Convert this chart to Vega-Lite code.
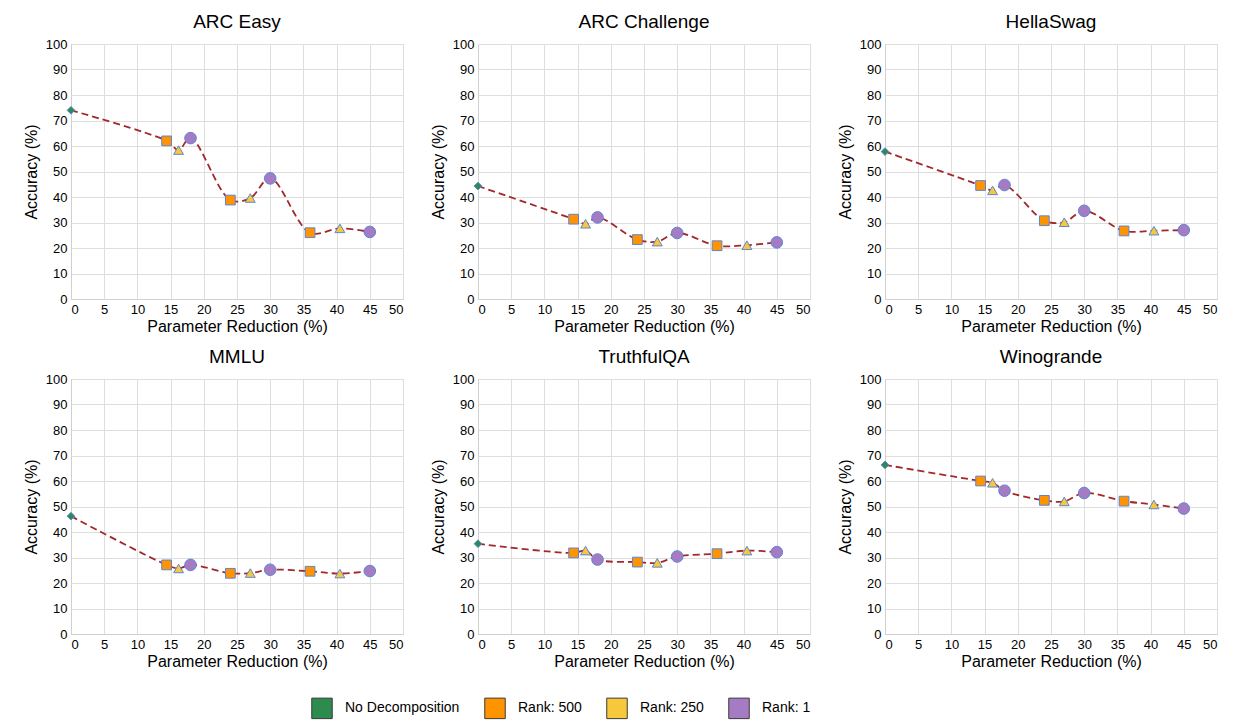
{
  "$schema": "https://vega.github.io/schema/vega-lite/v6.json",
  "background": "white",
  "padding": {"left": 22, "top": 12, "right": 5, "bottom": 5},
  "data": {"values": [
    {"bench":"ARC Easy","x":0,"acc":74.0,"series":"No Decomposition"},
    {"bench":"ARC Easy","x":14.4,"acc":62.0,"series":"Rank: 500"},
    {"bench":"ARC Easy","x":16.2,"acc":58.4,"series":"Rank: 250"},
    {"bench":"ARC Easy","x":18,"acc":63.1,"series":"Rank: 1"},
    {"bench":"ARC Easy","x":24,"acc":38.8,"series":"Rank: 500"},
    {"bench":"ARC Easy","x":27,"acc":39.6,"series":"Rank: 250"},
    {"bench":"ARC Easy","x":30,"acc":47.3,"series":"Rank: 1"},
    {"bench":"ARC Easy","x":36,"acc":26.0,"series":"Rank: 500"},
    {"bench":"ARC Easy","x":40.5,"acc":27.7,"series":"Rank: 250"},
    {"bench":"ARC Easy","x":45,"acc":26.3,"series":"Rank: 1"},
    {"bench":"ARC Challenge","x":0,"acc":44.3,"series":"No Decomposition"},
    {"bench":"ARC Challenge","x":14.4,"acc":31.3,"series":"Rank: 500"},
    {"bench":"ARC Challenge","x":16.2,"acc":29.5,"series":"Rank: 250"},
    {"bench":"ARC Challenge","x":18,"acc":32.0,"series":"Rank: 1"},
    {"bench":"ARC Challenge","x":24,"acc":23.3,"series":"Rank: 500"},
    {"bench":"ARC Challenge","x":27,"acc":22.5,"series":"Rank: 250"},
    {"bench":"ARC Challenge","x":30,"acc":25.9,"series":"Rank: 1"},
    {"bench":"ARC Challenge","x":36,"acc":20.9,"series":"Rank: 500"},
    {"bench":"ARC Challenge","x":40.5,"acc":21.1,"series":"Rank: 250"},
    {"bench":"ARC Challenge","x":45,"acc":22.2,"series":"Rank: 1"},
    {"bench":"HellaSwag","x":0,"acc":57.8,"series":"No Decomposition"},
    {"bench":"HellaSwag","x":14.4,"acc":44.5,"series":"Rank: 500"},
    {"bench":"HellaSwag","x":16.2,"acc":42.6,"series":"Rank: 250"},
    {"bench":"HellaSwag","x":18,"acc":44.7,"series":"Rank: 1"},
    {"bench":"HellaSwag","x":24,"acc":30.7,"series":"Rank: 500"},
    {"bench":"HellaSwag","x":27,"acc":30.1,"series":"Rank: 250"},
    {"bench":"HellaSwag","x":30,"acc":34.6,"series":"Rank: 1"},
    {"bench":"HellaSwag","x":36,"acc":26.7,"series":"Rank: 500"},
    {"bench":"HellaSwag","x":40.5,"acc":26.8,"series":"Rank: 250"},
    {"bench":"HellaSwag","x":45,"acc":27.0,"series":"Rank: 1"},
    {"bench":"MMLU","x":0,"acc":46.2,"series":"No Decomposition"},
    {"bench":"MMLU","x":14.4,"acc":27.1,"series":"Rank: 500"},
    {"bench":"MMLU","x":16.2,"acc":25.7,"series":"Rank: 250"},
    {"bench":"MMLU","x":18,"acc":27.1,"series":"Rank: 1"},
    {"bench":"MMLU","x":24,"acc":23.8,"series":"Rank: 500"},
    {"bench":"MMLU","x":27,"acc":23.9,"series":"Rank: 250"},
    {"bench":"MMLU","x":30,"acc":25.2,"series":"Rank: 1"},
    {"bench":"MMLU","x":36,"acc":24.6,"series":"Rank: 500"},
    {"bench":"MMLU","x":40.5,"acc":23.7,"series":"Rank: 250"},
    {"bench":"MMLU","x":45,"acc":24.7,"series":"Rank: 1"},
    {"bench":"TruthfulQA","x":0,"acc":35.4,"series":"No Decomposition"},
    {"bench":"TruthfulQA","x":14.4,"acc":31.8,"series":"Rank: 500"},
    {"bench":"TruthfulQA","x":16.2,"acc":32.7,"series":"Rank: 250"},
    {"bench":"TruthfulQA","x":18,"acc":29.2,"series":"Rank: 1"},
    {"bench":"TruthfulQA","x":24,"acc":28.2,"series":"Rank: 500"},
    {"bench":"TruthfulQA","x":27,"acc":27.9,"series":"Rank: 250"},
    {"bench":"TruthfulQA","x":30,"acc":30.4,"series":"Rank: 1"},
    {"bench":"TruthfulQA","x":36,"acc":31.5,"series":"Rank: 500"},
    {"bench":"TruthfulQA","x":40.5,"acc":32.7,"series":"Rank: 250"},
    {"bench":"TruthfulQA","x":45,"acc":32.1,"series":"Rank: 1"},
    {"bench":"Winogrande","x":0,"acc":66.3,"series":"No Decomposition"},
    {"bench":"Winogrande","x":14.4,"acc":60.0,"series":"Rank: 500"},
    {"bench":"Winogrande","x":16.2,"acc":59.3,"series":"Rank: 250"},
    {"bench":"Winogrande","x":18,"acc":56.2,"series":"Rank: 1"},
    {"bench":"Winogrande","x":24,"acc":52.4,"series":"Rank: 500"},
    {"bench":"Winogrande","x":27,"acc":52.0,"series":"Rank: 250"},
    {"bench":"Winogrande","x":30,"acc":55.3,"series":"Rank: 1"},
    {"bench":"Winogrande","x":36,"acc":52.1,"series":"Rank: 500"},
    {"bench":"Winogrande","x":40.5,"acc":50.8,"series":"Rank: 250"},
    {"bench":"Winogrande","x":45,"acc":49.2,"series":"Rank: 1"}
  ]},
  "facet": {
    "field": "bench", "type": "nominal",
    "sort": ["ARC Easy","ARC Challenge","HellaSwag","MMLU","TruthfulQA","Winogrande"],
    "title": null,
    "header": {"labelFontSize": 19, "labelFont": "Liberation Sans", "labelColor": "black", "labelPadding": 6}
  },
  "columns": 3,
  "spacing": {"column": 25, "row": 12},
  "resolve": {"axis": {"x": "independent", "y": "independent"}},
  "spec": {
    "width": 332,
    "height": 255,
    "encoding": {
      "x": {"field": "x", "type": "quantitative", "scale": {"domain": [0, 50]},
            "axis": {"values": [0,5,10,15,20,25,30,35,40,45,50], "title": "Parameter Reduction (%)", "labelOverlap": false}},
      "y": {"field": "acc", "type": "quantitative", "scale": {"domain": [0, 100]},
            "axis": {"values": [0,10,20,30,40,50,60,70,80,90,100], "title": "Accuracy (%)", "labelOverlap": false}}
    },
    "layer": [
      {
        "mark": {"type": "line", "interpolate": "catmull-rom", "color": "#a3282a", "strokeWidth": 1.8, "strokeDash": [7, 4]},
        "encoding": {
          "order": {"field": "x"}
        }
      },
      {
        "transform": [{"filter": "datum.series !== 'Rank: 500'"}],
        "mark": {"type": "point", "filled": true, "opacity": 1, "stroke": "#5b86d6", "strokeWidth": 1},
        "encoding": {
          "fill": {"field": "series", "type": "nominal",
                   "scale": {"domain": ["No Decomposition","Rank: 250","Rank: 1"],
                             "range": ["#2e8b4e","#f8c83c","#a57bc4"]},
                   "legend": null},
          "shape": {"field": "series", "type": "nominal",
                    "scale": {"domain": ["No Decomposition","Rank: 250","Rank: 1"],
                              "range": ["diamond","triangle-up","circle"]},
                    "legend": null},
          "size": {"field": "series", "type": "nominal",
                   "scale": {"domain": ["No Decomposition","Rank: 250","Rank: 1"],
                             "range": [60, 135, 110]},
                   "legend": null}
        }
      },
      {
        "transform": [{"filter": "datum.series === 'Rank: 500'"}],
        "mark": {"type": "square", "filled": true, "opacity": 1, "size": 95, "stroke": "#5b86d6", "strokeWidth": 1},
        "encoding": {
          "color": {"field": "series", "type": "nominal",
                    "scale": {"domain": ["No Decomposition","Rank: 500","Rank: 250","Rank: 1"],
                              "range": ["#2e8b4e","#ff9300","#f8c83c","#a57bc4"]},
                    "legend": {"title": null, "orient": "none", "legendX": 240, "legendY": 653, "direction": "horizontal",
                               "symbolType": "square", "symbolSize": 420,
                               "symbolStrokeColor": "#3a3a3a", "symbolStrokeWidth": 1,
                               "labelFontSize": 14, "labelFont": "Liberation Sans", "labelColor": "black",
                               "columnPadding": 22, "labelOffset": 12,
                               "encode": {"symbols": {"update": {"stroke": {"value": "#3a3a3a"}, "strokeWidth": {"value": 1}, "size": {"value": 420}}}}}}
        }
      }
    ]
  },
  "config": {
    "font": "Liberation Sans",
    "view": {"stroke": "#d9d9d9"},
    "axis": {
      "grid": true, "gridColor": "#dedede", "domainColor": "#d0d0d0", "ticks": false,
      "labelFontSize": 13, "labelColor": "black", "titleFontSize": 16, "titleFontWeight": "normal",
      "titleColor": "black", "labelPadding": 4
    },
    "axisX": {"titlePadding": 2},
    "axisY": {"titlePadding": 6}
  }
}
